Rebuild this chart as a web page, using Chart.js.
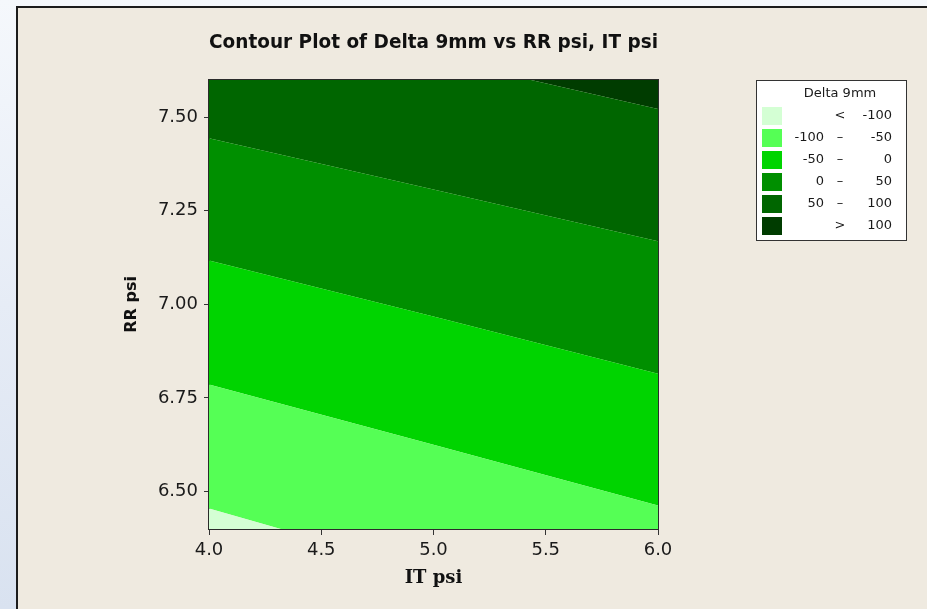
<!DOCTYPE html>
<html>
<head>
<meta charset="utf-8">
<script src="https://cdn.jsdelivr.net/npm/chart.js@4.4.1/dist/chart.umd.min.js"></script>
<style>
  html, body { margin: 0; padding: 0; }
  body {
    width: 927px; height: 609px; overflow: hidden; position: relative;
    background: linear-gradient(180deg, #f5f8fc 0%, #e6ecf6 50%, #d9e2f0 100%);
  }
  #panel {
    position: absolute; left: 16px; top: 6px; right: 0; bottom: 0;
    background: #efeae0;
    border-left: 2px solid #1c1c1c; border-top: 2px solid #1c1c1c;
  }
  #plot { position: absolute; left: 0; top: 0; }
</style>
</head>
<body>
<div id="panel"></div>
<canvas id="plot" width="927" height="609"></canvas>
<script>
  // IT psi positions where each contour line is sampled
  const itPsi = [4.0, 5.0, 6.0];

  // contour levels of Delta 9mm
  const levels = [-100, -50, 0, 50, 100];

  // RR psi of each contour line at the IT psi positions above
  const rrAtMinus100 = [6.455, 6.283, 6.111];
  const rrAtMinus50 = [6.786, 6.625, 6.463];
  const rrAt0 = [7.117, 6.968, 6.815];
  const rrAt50 = [7.444, 7.307, 7.169];
  const rrAt100 = [7.796, 7.659, 7.522];

  // one colour per band, lowest band first
  const bandColors = ['#d4ffd4', '#55ff55', '#00d400', '#008f00', '#006600', '#003c00'];

  const xTicks = [4.0, 4.5, 5.0, 5.5, 6.0];
  const yTicks = [6.50, 6.75, 7.00, 7.25, 7.50];

  const contours = [rrAtMinus100, rrAtMinus50, rrAt0, rrAt50, rrAt100];
  const toPoints = rr => itPsi.map((x, i) => ({ x: x, y: rr[i] }));

  // each band is the area between a contour and the one below it
  const datasets = contours.map((rr, i) => ({
    label: String(levels[i]),
    data: toPoints(rr),
    fill: i === 0 ? 'start' : '-1',
    backgroundColor: bandColors[i],
    borderWidth: 0,
    pointRadius: 0
  }));
  datasets.push({
    label: '> ' + levels[levels.length - 1],
    data: toPoints(rrAt100),
    fill: 'end',
    backgroundColor: bandColors[5],
    borderWidth: 0,
    pointRadius: 0
  });

  // legend rows: left number, separator, right number
  function legendRows() {
    const rows = [];
    rows.push(['', '<', String(levels[0])]);
    for (let i = 0; i < levels.length - 1; i++) {
      rows.push([String(levels[i]), '\u2013', String(levels[i + 1])]);
    }
    rows.push(['', '>', String(levels[levels.length - 1])]);
    return rows;
  }

  const framePlugin = {
    id: 'frame',
    afterDatasetsDraw(chart) {
      const a = chart.chartArea;
      const ctx = chart.ctx;
      ctx.save();
      ctx.strokeStyle = '#2b2b2b';
      ctx.lineWidth = 1;
      ctx.strokeRect(Math.round(a.left) - 0.5, Math.round(a.top) - 0.5,
        Math.round(a.right - a.left) + 1, Math.round(a.bottom - a.top) + 1);
      ctx.restore();
    }
  };

  const bandLegend = {
    id: 'bandLegend',
    afterDraw(chart) {
      const ctx = chart.ctx;
      const left = 756, top = 80, width = 150, height = 160;
      ctx.save();
      ctx.fillStyle = '#ffffff';
      ctx.fillRect(left, top, width, height);
      ctx.strokeStyle = '#333333';
      ctx.lineWidth = 1;
      ctx.strokeRect(left + 0.5, top + 0.5, width, height);

      ctx.fillStyle = '#1a1a1a';
      ctx.font = '13px "DejaVu Sans"';
      ctx.textBaseline = 'middle';
      ctx.textAlign = 'center';
      ctx.fillText('Delta 9mm', 840, 94);

      legendRows().forEach((row, i) => {
        const cy = 116 + i * 22;
        ctx.fillStyle = bandColors[i];
        ctx.fillRect(762, cy - 9, 20, 18);
        ctx.fillStyle = '#1a1a1a';
        ctx.textAlign = 'right';
        ctx.fillText(row[0], 824, cy);
        ctx.textAlign = 'center';
        ctx.fillText(row[1], 840, cy);
        ctx.textAlign = 'right';
        ctx.fillText(row[2], 892, cy);
      });
      ctx.restore();
    }
  };

  new Chart(document.getElementById('plot'), {
    type: 'line',
    data: { datasets: datasets },
    plugins: [framePlugin, bandLegend],
    options: {
      responsive: false,
      animation: false,
      layout: { padding: { left: 0, right: 269, top: 0, bottom: 0 } },
      plugins: {
        legend: { display: false },
        tooltip: { enabled: false },
        title: {
          display: true,
          fullSize: false,
          text: 'Contour Plot of Delta 9mm vs RR psi, IT psi',
          color: '#111111',
          font: { family: 'DejaVu Sans', size: 19, weight: 'bold', lineHeight: 1.2 },
          padding: { top: 32, bottom: 25 }
        }
      },
      scales: {
        x: {
          type: 'linear',
          min: 4,
          max: 6,
          afterFit(scale) { scale.height = 80; },
          afterBuildTicks(scale) { scale.ticks = xTicks.map(v => ({ value: v })); },
          ticks: {
            color: '#1a1a1a',
            padding: 5,
            font: { family: 'DejaVu Sans', size: 18 },
            callback: v => Number(v).toFixed(1)
          },
          grid: { drawOnChartArea: false, drawTicks: true, tickLength: 6, tickColor: '#333333' },
          border: { display: true, color: '#2b2b2b' },
          title: {
            display: true,
            text: 'IT psi',
            color: '#111111',
            font: { family: 'DejaVu Serif', size: 18, weight: 'bold', lineHeight: 1.2 },
            padding: { top: 0, bottom: 20 }
          }
        },
        y: {
          type: 'linear',
          min: 6.4,
          max: 7.6,
          afterFit(scale) { scale.width = 209; },
          afterBuildTicks(scale) { scale.ticks = yTicks.map(v => ({ value: v })); },
          ticks: {
            color: '#1a1a1a',
            padding: 6,
            font: { family: 'DejaVu Sans', size: 18 },
            callback: v => Number(v).toFixed(2)
          },
          grid: { drawOnChartArea: false, drawTicks: true, tickLength: 5, tickColor: '#333333' },
          border: { display: true, color: '#2b2b2b' },
          title: {
            display: true,
            text: 'RR psi',
            color: '#111111',
            font: { family: 'DejaVu Sans', size: 16, weight: 'bold', lineHeight: 1.2 },
            padding: { top: 122, bottom: 0 }
          }
        }
      }
    }
  });
</script>
</body>
</html>
